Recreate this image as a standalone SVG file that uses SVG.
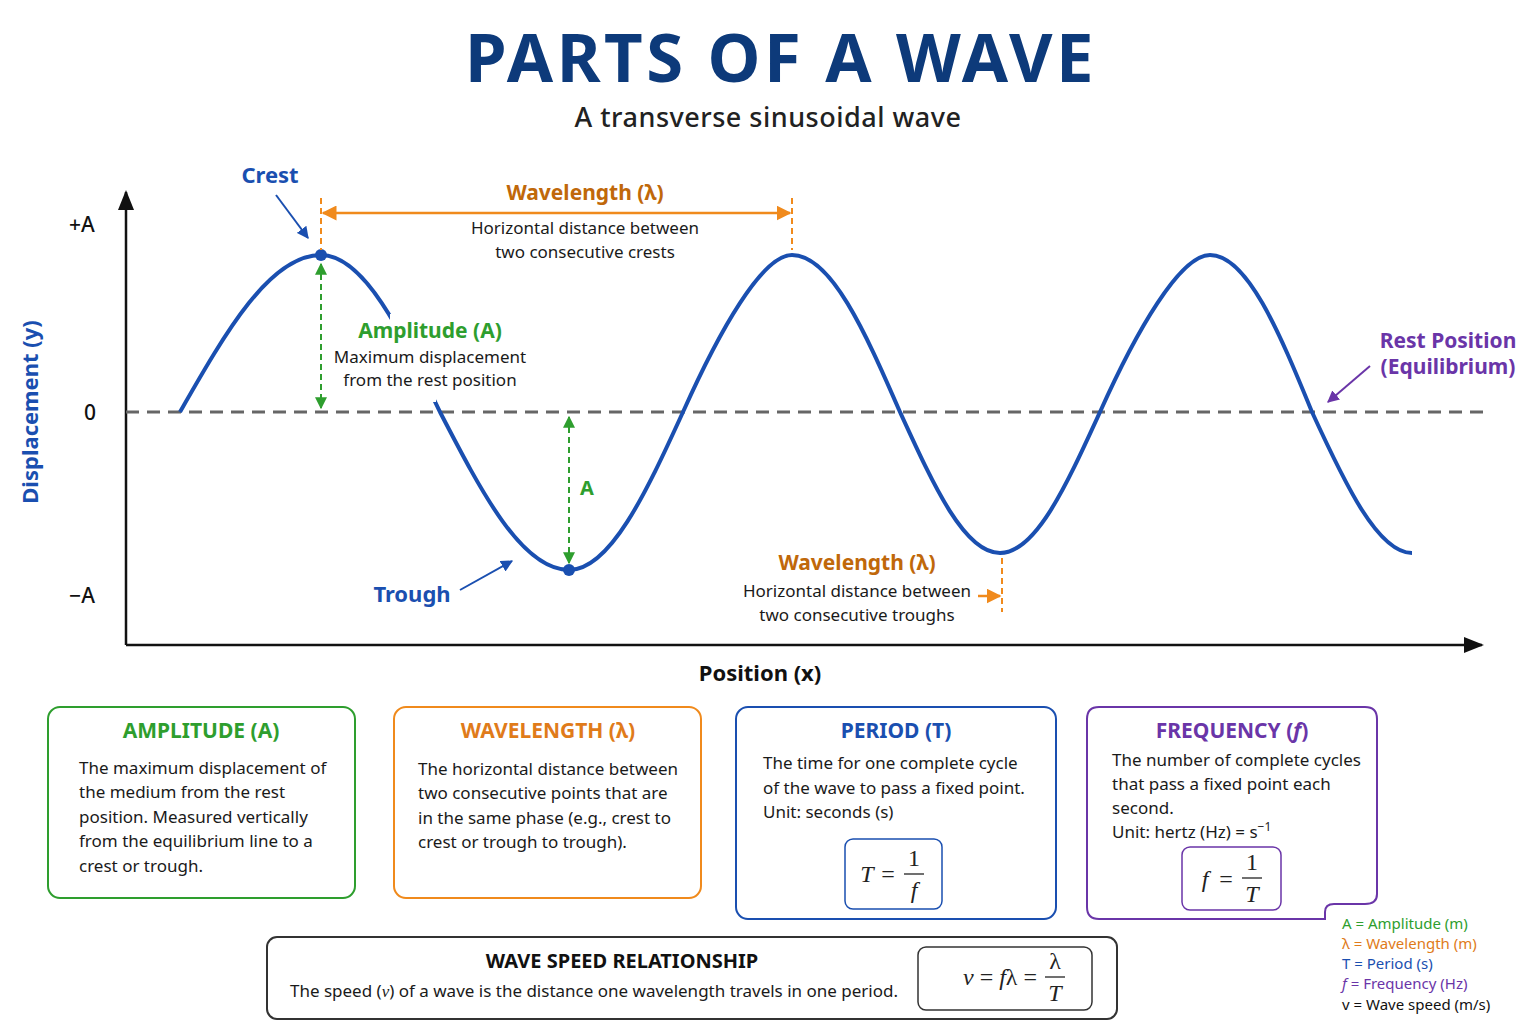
<svg xmlns="http://www.w3.org/2000/svg" width="1536" height="1024" viewBox="0 0 1536 1024">
<style>
text{font-family:"Noto Sans","Liberation Sans",sans-serif;}
.b{font-weight:bold}
.c{text-anchor:middle}
.body{font-size:17px;fill:#1a1a1a}
.math{font-family:"Liberation Serif","DejaVu Serif",serif;font-size:24px;fill:#222}
.mi{font-style:italic}
.box{fill:#fff;stroke-width:2}
</style>
<defs>
<marker id="ak" viewBox="0 0 10 10" refX="9" refY="5" markerWidth="8" markerHeight="8" orient="auto-start-reverse"><path d="M0,1L10,5L0,9z" fill="#111"/></marker>
<marker id="ao" viewBox="0 0 10 10" refX="9" refY="5" markerWidth="6" markerHeight="6" orient="auto-start-reverse"><path d="M0,0L10,5L0,10z" fill="#f08a1c"/></marker>
<marker id="ag" viewBox="0 0 10 10" refX="9" refY="5" markerWidth="6" markerHeight="6" orient="auto-start-reverse"><path d="M0,0L10,5L0,10z" fill="#2e9e2e"/></marker>
<marker id="ab" viewBox="0 0 10 10" refX="9" refY="5" markerWidth="6" markerHeight="6" orient="auto"><path d="M0,0L10,5L0,10z" fill="#1a4fb0"/></marker>
<marker id="ap" viewBox="0 0 10 10" refX="9" refY="5" markerWidth="6" markerHeight="6" orient="auto"><path d="M0,0L10,5L0,10z" fill="#6a35a8"/></marker>
</defs>
<rect width="1536" height="1024" fill="#fff"/>
<text x="781" y="82" class="b c" font-size="67" fill="#0d3a7a" letter-spacing="3.5">PARTS OF A WAVE</text>
<text x="768" y="127" class="c" font-size="27" font-weight="500" fill="#222" letter-spacing="0.5">A transverse sinusoidal wave</text>

<g id="axes">
<line x1="126" y1="645" x2="126" y2="192" stroke="#111" stroke-width="2.5" marker-end="url(#ak)"/>
<line x1="126" y1="645" x2="1482" y2="645" stroke="#111" stroke-width="2.5" marker-end="url(#ak)"/>
<line x1="126" y1="412" x2="1483" y2="412" stroke="#666" stroke-width="3" stroke-dasharray="13 8"/>
<text x="82" y="232" class="c" font-size="21" font-weight="500" fill="#111">+A</text>
<text x="90" y="420" class="c" font-size="21" font-weight="500" fill="#111">0</text>
<text x="82" y="603" class="c" font-size="21" font-weight="500" fill="#111">−A</text>
<text transform="translate(38,412) rotate(-90)" class="b c" font-size="22" fill="#1a4fb0">Displacement (y)</text>
<text x="760" y="681" class="b c" font-size="22" fill="#111">Position (x)</text>
</g>

<g id="wave">
<path d="M180,412 C226,331.6 270,255 321,255 C364,255 401,331.6 440,412 C482,493 522,570 569,570 C610,570 646,493 683,412 C719,331.6 762,255 792,255 C831,255 865,331.6 900,412 C933,484 964,553 1000,553 C1036,553 1067,484 1100,412 C1136,331.6 1180,255 1210,255 C1247,255 1279,331.6 1312,412 C1345,484 1378,553 1412,553" fill="none" stroke="#1a4fb0" stroke-width="4"/>
<rect x="390" y="314" width="46" height="88" fill="#fff"/>
<circle cx="321" cy="255" r="6" fill="#1a4fb0"/>
<circle cx="569" cy="570" r="6" fill="#1a4fb0"/>
</g>

<g id="connectors">
<line x1="276" y1="195" x2="308" y2="238" stroke="#1a4fb0" stroke-width="2" marker-end="url(#ab)"/>
<line x1="460" y1="590" x2="512" y2="561" stroke="#1a4fb0" stroke-width="2" marker-end="url(#ab)"/>
<line x1="1370" y1="366" x2="1328" y2="402" stroke="#6a35a8" stroke-width="2" marker-end="url(#ap)"/>
<line x1="321" y1="198" x2="321" y2="250" stroke="#f08a1c" stroke-width="2" stroke-dasharray="6 4"/>
<line x1="792" y1="198" x2="792" y2="250" stroke="#f08a1c" stroke-width="2" stroke-dasharray="6 4"/>
<line x1="323" y1="213" x2="790" y2="213" stroke="#f08a1c" stroke-width="2.5" marker-start="url(#ao)" marker-end="url(#ao)"/>
<line x1="1002" y1="558" x2="1002" y2="612" stroke="#f08a1c" stroke-width="2" stroke-dasharray="6 4"/>
<line x1="978" y1="596" x2="1000" y2="596" stroke="#f08a1c" stroke-width="2.5" marker-end="url(#ao)"/>
<line x1="321" y1="264" x2="321" y2="408" stroke="#2e9e2e" stroke-width="2" stroke-dasharray="6 4" marker-start="url(#ag)" marker-end="url(#ag)"/>
<line x1="569" y1="417" x2="569" y2="563" stroke="#2e9e2e" stroke-width="2" stroke-dasharray="6 4" marker-start="url(#ag)" marker-end="url(#ag)"/>
</g>

<g id="labels">
<text x="270" y="183" class="b c" font-size="22" fill="#1a4fb0">Crest</text>
<text x="412" y="602" class="b c" font-size="22" fill="#1a4fb0">Trough</text>
<text x="585" y="200" class="b c" font-size="21" fill="#c0680a">Wavelength (λ)</text>
<text x="585" y="234" class="c body">Horizontal distance between</text>
<text x="585" y="258" class="c body">two consecutive crests</text>
<text x="430" y="338" class="b c" font-size="21" fill="#2e9e2e">Amplitude (A)</text>
<text x="430" y="363" class="c body">Maximum displacement</text>
<text x="430" y="386" class="c body">from the rest position</text>
<text x="587" y="495" class="b c" font-size="20" fill="#2e9e2e">A</text>
<text x="857" y="570" class="b c" font-size="21" fill="#c0680a">Wavelength (λ)</text>
<text x="857" y="597" class="c body">Horizontal distance between</text>
<text x="857" y="621" class="c body">two consecutive troughs</text>
<text x="1448" y="348" class="b c" font-size="21" fill="#6a35a8">Rest Position</text>
<text x="1448" y="374" class="b c" font-size="21" fill="#6a35a8">(Equilibrium)</text>
</g>

<g id="amplitude-box">
<rect x="48" y="707" width="307" height="191" rx="12" class="box" stroke="#2e9e2e"/>
<text x="201" y="738" class="b c" font-size="21" fill="#2e9e2e">AMPLITUDE (A)</text>
<text class="body" x="79" y="774">The maximum displacement of</text>
<text class="body" x="79" y="798">the medium from the rest</text>
<text class="body" x="79" y="823">position. Measured vertically</text>
<text class="body" x="79" y="847">from the equilibrium line to a</text>
<text class="body" x="79" y="872">crest or trough.</text>
</g>

<g id="wavelength-box">
<rect x="394" y="707" width="307" height="191" rx="12" class="box" stroke="#f08a1c"/>
<text x="548" y="738" class="b c" font-size="21" fill="#e07b1a">WAVELENGTH (λ)</text>
<text class="body" x="418" y="775">The horizontal distance between</text>
<text class="body" x="418" y="799">two consecutive points that are</text>
<text class="body" x="418" y="824">in the same phase (e.g., crest to</text>
<text class="body" x="418" y="848">crest or trough to trough).</text>
</g>

<g id="period-box">
<rect x="736" y="707" width="320" height="212" rx="12" class="box" stroke="#1a4fb0"/>
<text x="896" y="738" class="b c" font-size="21" fill="#1a4fb0">PERIOD (T)</text>
<text class="body" x="763" y="769">The time for one complete cycle</text>
<text class="body" x="763" y="794">of the wave to pass a fixed point.</text>
<text class="body" x="763" y="818">Unit: seconds (s)</text>
<rect x="845" y="839" width="97" height="70" rx="8" fill="#fff" stroke="#1a4fb0" stroke-width="1.5"/>
<text x="867" y="882" class="math mi c">T</text>
<text x="888" y="882" class="math c">=</text>
<text x="914" y="866" class="math c" font-size="21">1</text>
<line x1="904" y1="874" x2="924" y2="874" stroke="#222" stroke-width="1.3"/>
<text x="914" y="898" class="math mi c" font-size="22">f</text>
</g>

<g id="frequency-box">
<path d="M1099,707 H1365 Q1377,707 1377,719 V894 Q1377,904 1365,904 H1334 Q1325,904 1325,912 V919 H1099 Q1087,919 1087,907 V719 Q1087,707 1099,707 Z" class="box" stroke="#6a35a8"/>
<text x="1232" y="738" class="b c" font-size="21" fill="#6a35a8">FREQUENCY (<tspan font-style="italic">f</tspan>)</text>
<text class="body" x="1112" y="766">The number of complete cycles</text>
<text class="body" x="1112" y="790">that pass a fixed point each</text>
<text class="body" x="1112" y="814">second.</text>
<text class="body" x="1112" y="838">Unit: hertz (Hz) = s<tspan dy="-7" font-size="12">−1</tspan></text>
<rect x="1182" y="847" width="99" height="63" rx="8" fill="#fff" stroke="#6a35a8" stroke-width="1.5"/>
<text x="1205" y="887" class="math mi c">f</text>
<text x="1226" y="887" class="math c">=</text>
<text x="1252" y="870" class="math c" font-size="21">1</text>
<line x1="1242" y1="878" x2="1262" y2="878" stroke="#222" stroke-width="1.3"/>
<text x="1252" y="902" class="math mi c" font-size="22">T</text>
</g>

<g id="legend">
<text x="1342" y="929" font-size="15" fill="#2e9e2e">A = Amplitude (m)</text>
<text x="1342" y="949" font-size="15" fill="#e07b1a">λ = Wavelength (m)</text>
<text x="1342" y="969" font-size="15" fill="#1a4fb0">T = Period (s)</text>
<text x="1342" y="989" font-size="15" fill="#6a35a8"><tspan font-style="italic">f</tspan>  = Frequency (Hz)</text>
<text x="1342" y="1010" font-size="15" fill="#111">v = Wave speed (m/s)</text>
</g>

<g id="speed-box">
<rect x="267" y="937" width="850" height="82" rx="10" class="box" stroke="#333"/>
<text x="622" y="968" class="b c" font-size="20" fill="#111">WAVE SPEED RELATIONSHIP</text>
<text x="594" y="997" class="c body">The speed (<tspan font-style="italic" font-family="Liberation Serif,serif">v</tspan>) of a wave is the distance one wavelength travels in one period.</text>
<rect x="918" y="947" width="174" height="63" rx="8" fill="#fff" stroke="#333" stroke-width="1.5"/>
<text x="1000" y="985" class="math c"><tspan font-style="italic">v</tspan> = <tspan font-style="italic">f</tspan>λ =</text>
<text x="1055" y="969" class="math c" font-size="21">λ</text>
<line x1="1045" y1="977" x2="1065" y2="977" stroke="#222" stroke-width="1.3"/>
<text x="1055" y="1001" class="math mi c" font-size="22">T</text>
</g>
</svg>
